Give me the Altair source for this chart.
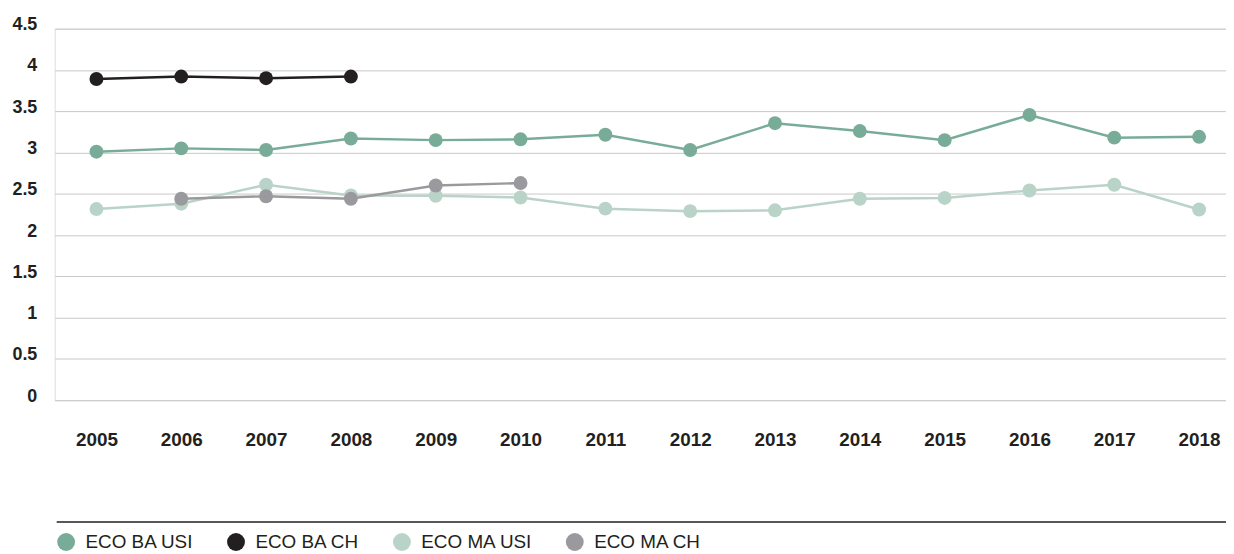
import altair as alt
import pandas as pd

years = list(range(2005, 2019))
series_names = ["ECO BA USI", "ECO BA CH", "ECO MA USI", "ECO MA CH"]
colors = ["#79ac98", "#231f20", "#bad3c9", "#9a999e"]

eco_ba_usi = [3.01, 3.05, 3.03, 3.17, 3.15, 3.16, 3.215, 3.03, 3.355, 3.26, 3.15, 3.455, 3.18, 3.19]
eco_ba_ch_years = [2005, 2006, 2007, 2008]
eco_ba_ch = [3.89, 3.92, 3.90, 3.92]
eco_ma_usi = [2.315, 2.38, 2.61, 2.48, 2.476, 2.455, 2.32, 2.29, 2.30, 2.44, 2.45, 2.54, 2.61, 2.31]
eco_ma_ch_years = [2006, 2007, 2008, 2009, 2010]
eco_ma_ch = [2.44, 2.47, 2.44, 2.60, 2.63]

y_ticks = [0, 0.5, 1, 1.5, 2, 2.5, 3, 3.5, 4, 4.5]

rows = []
for yy, v in zip(years, eco_ba_usi):
    rows.append({"year": yy, "value": v, "series": series_names[0]})
for yy, v in zip(eco_ba_ch_years, eco_ba_ch):
    rows.append({"year": yy, "value": v, "series": series_names[1]})
for yy, v in zip(years, eco_ma_usi):
    rows.append({"year": yy, "value": v, "series": series_names[2]})
for yy, v in zip(eco_ma_ch_years, eco_ma_ch):
    rows.append({"year": yy, "value": v, "series": series_names[3]})
df = pd.DataFrame(rows)

W, H = 1179, 374
FONT = "Liberation Sans"

color = alt.Color(
    "series:N",
    scale=alt.Scale(domain=series_names, range=colors),
    legend=alt.Legend(
        title=None,
        orient="none",
        direction="horizontal",
        legendX=2,
        legendY=507,
        symbolType="circle",
        symbolSize=324,
        symbolStrokeWidth=0,
        labelFont=FONT,
        labelFontSize=19,
        labelColor="#231f20",
        labelOffset=10,
        columnPadding=33,
        symbolOpacity=1,
    ),
)

base = alt.Chart(df).encode(
    x=alt.X(
        "year:Q",
        scale=alt.Scale(domain=[2004.508, 2018.317], nice=False, zero=False),
        axis=alt.Axis(
            title=None,
            values=years,
            format="d",
            grid=False,
            ticks=False,
            domain=False,
            labelFont=FONT,
            labelFontSize=19,
            labelFontWeight="bold",
            labelColor="#231f20",
            labelPadding=31,
        ),
    ),
    y=alt.Y(
        "value:Q",
        scale=alt.Scale(domain=[0, 4.5], nice=False),
        axis=alt.Axis(
            title=None,
            values=y_ticks,
            format="~g",
            grid=True,
            gridColor="#c8c8c8",
            gridWidth=1,
            ticks=False,
            domain=False,
            labelFont=FONT,
            labelFontSize=18,
            labelFontWeight="bold",
            labelColor="#231f20",
            labelPadding=18,
            labelOffset=-4,
        ),
    ),
    color=color,
    detail="series:N",
    order=alt.Order("year:Q"),
)

lines = base.mark_line(strokeWidth=2.5, opacity=1)
points = base.mark_point(filled=True, size=196, opacity=1, strokeWidth=0)

rule = alt.Chart(pd.DataFrame({"a": [0]})).mark_rule(color="#231f20", strokeWidth=1.5).encode(
    x=alt.value(2), x2=alt.value(W), y=alt.value(496.5)
)

chart = (
    alt.layer(lines + points, rule)
    .properties(
        width=W,
        height=H,
        autosize=alt.AutoSizeParams(type="none"),
        padding={"left": 47, "top": 19, "right": 0, "bottom": 153},
    )
    .configure_view(stroke=None)
    .configure(background="white")
)

chart.save("out.html", embed_options={"renderer": "svg", "actions": False})
